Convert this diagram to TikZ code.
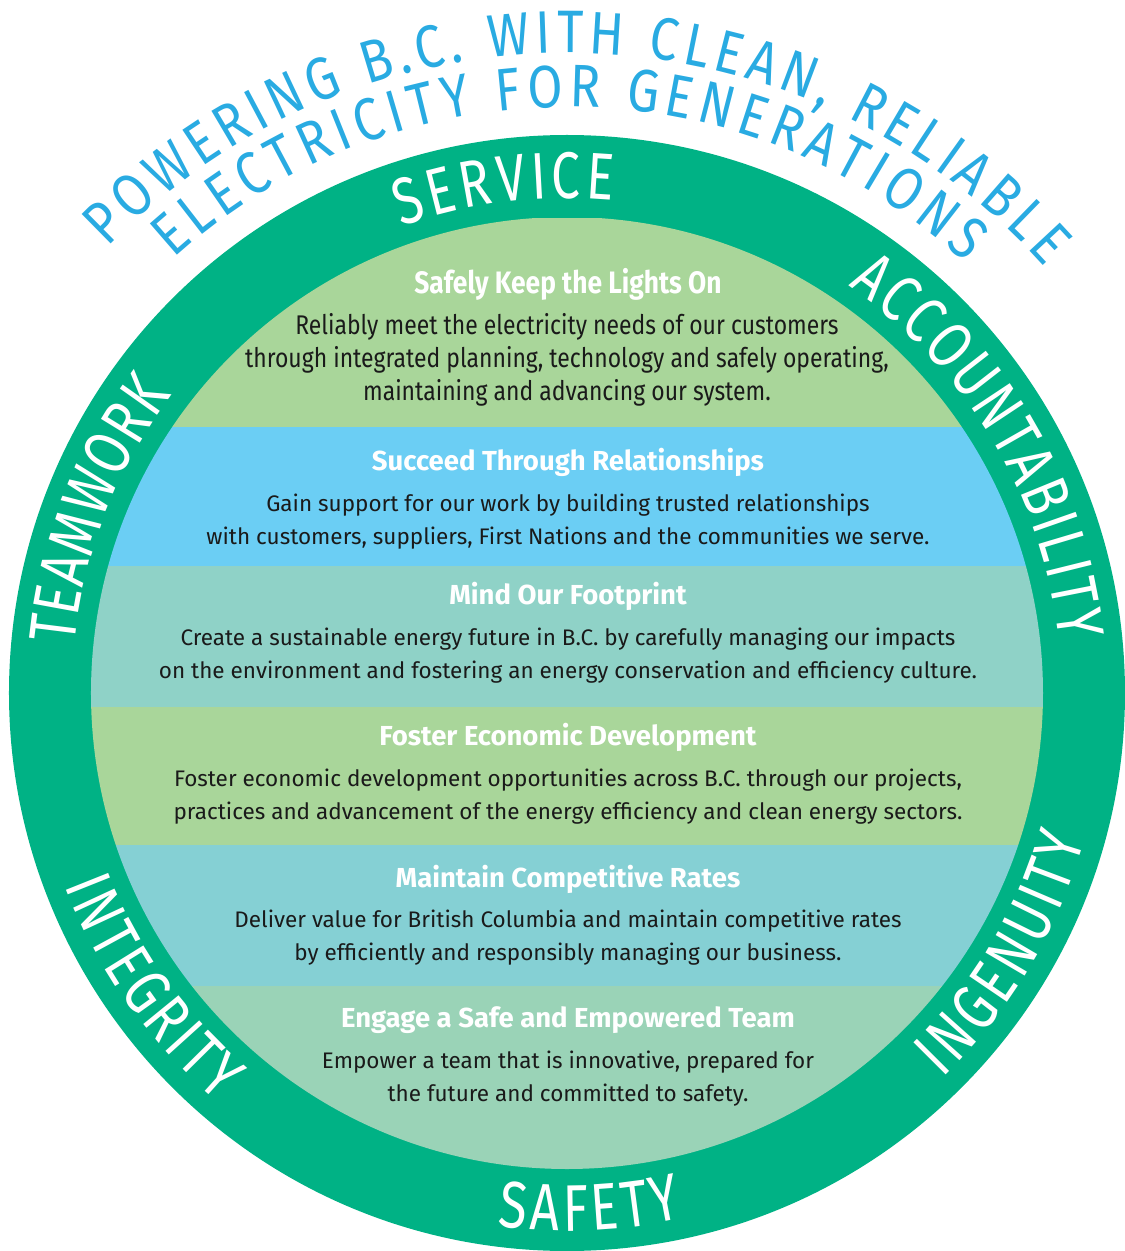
\documentclass[tikz,border=0pt]{standalone}
\usepackage{fontspec}
\setmainfont{Fira Sans}
\newfontfamily\ringfont[FakeStretch=0.78]{Fira Sans}
\newfontfamily\arcfont[FakeStretch=0.85]{Fira Sans}
\newfontfamily\condfont[FakeStretch=0.85]{Fira Sans}
\usetikzlibrary{decorations.text}
\definecolor{ringgreen}{HTML}{00B285}
\definecolor{bandgreen}{HTML}{A9D69A}
\definecolor{bandblue}{HTML}{6BCEF4}
\definecolor{bandteal}{HTML}{8FD2C7}
\definecolor{bandaqua}{HTML}{85D0D4}
\definecolor{bandmint}{HTML}{9AD3B7}
\definecolor{skyblue}{HTML}{29ABE2}
\definecolor{bodyink}{HTML}{1A1A1A}
\newcommand{\ringstyle}{\ringfont\fontsize{66}{70}\selectfont}
\newcommand{\arcstyle}{\arcfont\fontsize{60}{66}\selectfont}

\begin{document}
\begin{tikzpicture}[x=1pt, y=1pt,
	goal/.style={text=white, inner sep=0pt, font=\bfseries\fontsize{27.5}{32}\selectfont},
	detail/.style={text=bodyink, inner sep=0pt, align=center, font=\fontsize{22.5}{33}\selectfont}]
	\useasboundingbox (-567,-558) rectangle (558,693);
	\fill[ringgreen] (0,0) coordinate (C) circle[radius=558];
	\begin{scope}
		\clip (C) circle[radius=476];
		\foreach \ytop/\ybot/\col in {475/266/bandgreen, 266/127/bandblue, 127/-14/bandteal, -14/-152/bandgreen, -152/-293/bandaqua, -293/-480/bandmint} {
			\fill[\col] (-480,\ytop) rectangle (480,\ybot);
		}
	\end{scope}
	% ring of values
	\foreach \lbl/\a/\b/\r in {SERVICE/109.5/84.7/495, ACCOUNTABILITY/55.3/6.1/495, TEAMWORK/174.4/143/495, INTEGRITY/201/229.5/538, SAFETY/262.6/282.4/538, INGENUITY/314.3/344.2/538} {
		\path[decorate, decoration={text along path, text/.expanded={|\noexpand\ringstyle|\lbl}, text align=fit to path, text color=white}] (\a:\r) arc[start angle=\a, end angle=\b, radius=\r];
	}
	% heading over the circle
	\path[decorate, decoration={text along path, text={|\arcstyle|POWERING B.C. WITH CLEAN, RELIABLE}, text align=fit to path, text color=skyblue}] (135.9:640) arc[start angle=135.9, end angle=41.7, radius=640];
	\path[decorate, decoration={text along path, text={|\arcstyle|ELECTRICITY FOR GENERATIONS}, text align=fit to path, text color=skyblue}] (132.2:586) arc[start angle=132.2, end angle=47.3, radius=586];
	% goals
	\node[goal, font=\condfont\bfseries\fontsize{31}{34}\selectfont] (lights) at (1,409) {Safely Keep the Lights On};
	\node[detail, font=\condfont\fontsize{27}{33}\selectfont] (lightstxt) at (0,333) {Reliably meet the electricity needs of our customers\\through integrated planning, technology and safely operating,\\maintaining and advancing our system.};
	\node[goal] (relations) at (1,231) {Succeed Through Relationships};
	\node[detail] (relationstxt) at (1,171.5) {Gain support for our work by building trusted relationships\\with customers, suppliers, First Nations and the communities we serve.};
	\node[goal] (footprint) at (1,97) {Mind Our Footprint};
	\node[detail] (footprinttxt) at (1,37.5) {Create a sustainable energy future in B.C. by carefully managing our impacts\\on the environment and fostering an energy conservation and efficiency culture.};
	\node[goal] (economy) at (1,-44) {Foster Economic Development};
	\node[detail] (economytxt) at (1,-103.5) {Foster economic development opportunities across B.C. through our projects,\\practices and advancement of the energy efficiency and clean energy sectors.};
	\node[goal] (rates) at (1,-186) {Maintain Competitive Rates};
	\node[detail] (ratestxt) at (1,-244.5) {Deliver value for British Columbia and maintain competitive rates\\by efficiently and responsibly managing our business.};
	\node[goal] (team) at (1,-327) {Engage a Safe and Empowered Team};
	\node[detail] (teamtxt) at (1,-386) {Empower a team that is innovative, prepared for\\the future and committed to safety.};
\end{tikzpicture}
\end{document}
